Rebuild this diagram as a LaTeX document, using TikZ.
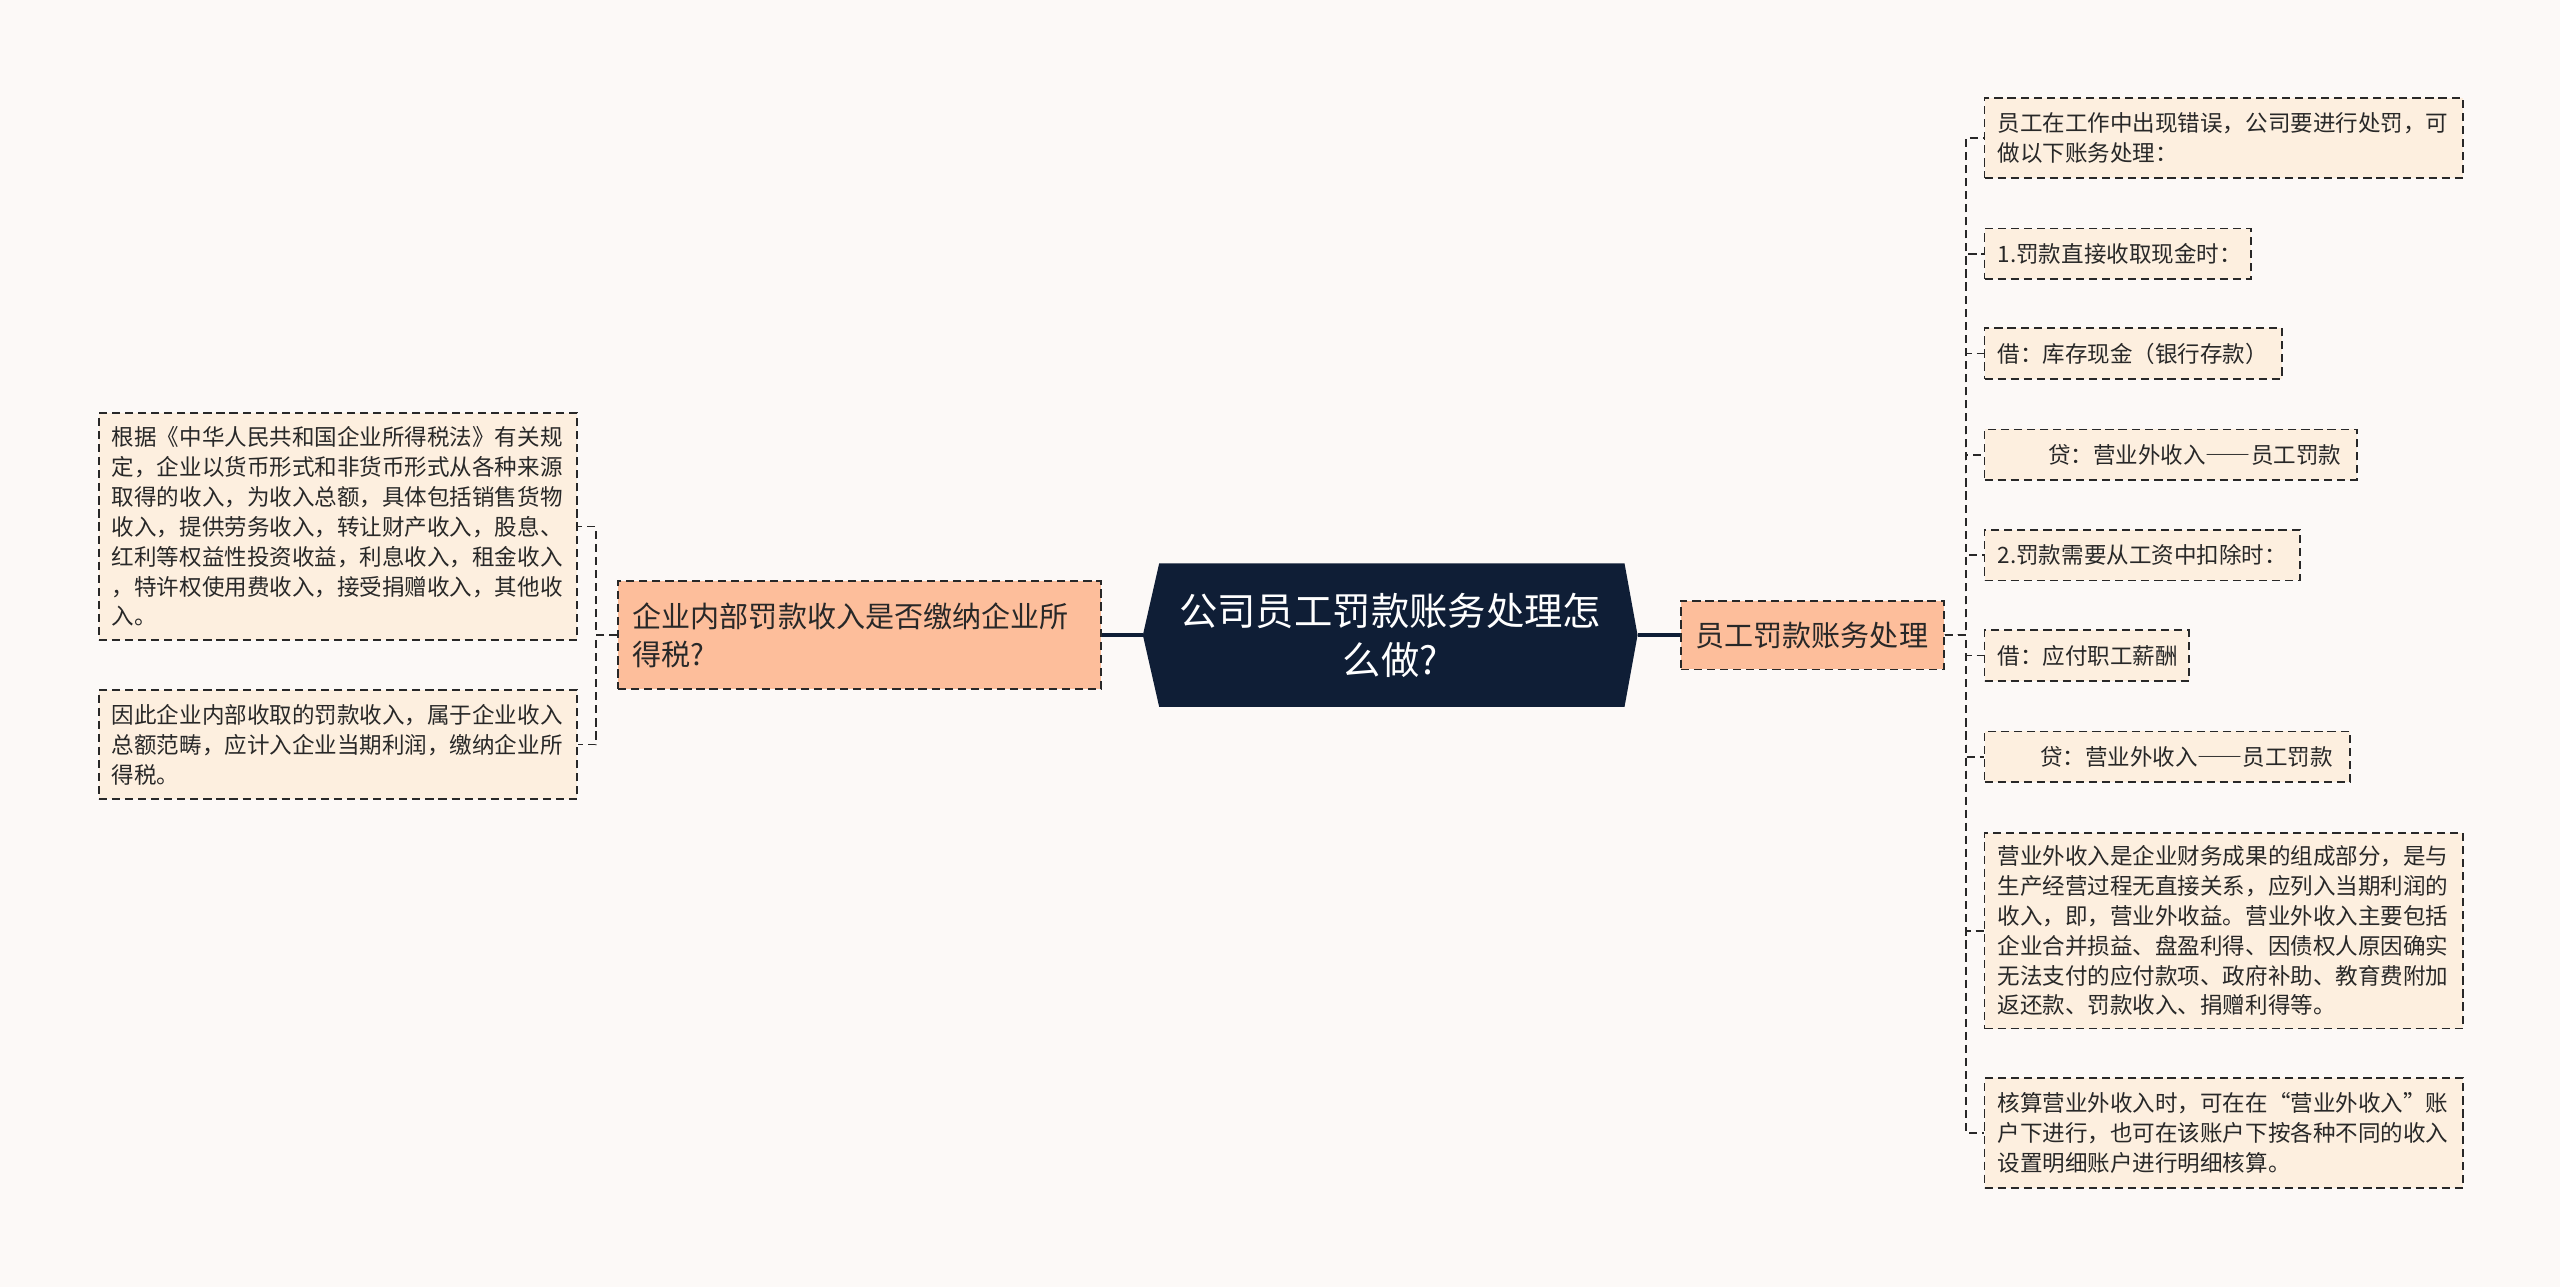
\documentclass[tikz,border=0pt]{standalone}
\usepackage{fontspec}
\setmainfont{Noto Sans CJK SC}
\usepackage{tikz}

\definecolor{bgcol}{RGB}{252,249,247}
\definecolor{navy}{RGB}{15,30,54}
\definecolor{salmon}{RGB}{253,190,155}
\definecolor{peach}{RGB}{253,239,223}
\definecolor{ink}{RGB}{40,40,40}

\newcommand{\cdash}{{\addfontfeature{RawFeature=+fwid}——}}

\begin{document}
\begin{tikzpicture}[x=1pt,y=1pt,
    leaf/.style={draw=ink,line width=1.1pt,dash pattern=on 5pt off 3pt,fill=peach,
      anchor=west,align=left,inner xsep=8pt,inner ysep=0pt,text=ink,
      font=\fontsize{13.8}{18.3}\selectfont},
    mainbox/.style={draw=ink,line width=1.1pt,dash pattern=on 5pt off 3pt,fill=salmon,
      anchor=west,align=left,inner xsep=9pt,inner ysep=0pt,text=ink,
      font=\fontsize{17.8}{23}\selectfont},
    root/.style={minimum width=303pt,minimum height=88pt,inner sep=0pt,
      align=center,text=white,font=\fontsize{23.5}{30}\selectfont,
      path picture={\fill[navy]
        ([xshift=10pt]path picture bounding box.north west)
        -- (path picture bounding box.west)
        -- ([xshift=10pt]path picture bounding box.south west)
        -- ([xshift=-8pt]path picture bounding box.south east)
        -- (path picture bounding box.east)
        -- ([xshift=-8pt]path picture bounding box.north east) -- cycle;}},
    conn/.style={draw=ink,line width=1.1pt,dash pattern=on 5pt off 3pt},
    rootconn/.style={draw=navy,line width=2pt}]

  \fill[bgcol] (0,0) rectangle (1568,-788);
  \useasboundingbox (0,0) rectangle (1568,-788);

  \node[root] (root) at (851.5,-389) {公司员工罚款账务处理怎\\么做?};

  \node[mainbox,text width=278pt,minimum height=66pt] (q) at (378,-389)
    {企业内部罚款收入是否缴纳企业所\\得税?};
  \node[mainbox,text width=143pt,minimum height=42pt] (a) at (1029,-389)
    {员工罚款账务处理};

  \node[leaf,text width=277pt,minimum height=139pt] (l1) at (60,-322.5)
    {根据《中华人民共和国企业所得税法》有关规\\定，企业以货币形式和非货币形式从各种来源\\取得的收入，为收入总额，具体包括销售货物\\收入，提供劳务收入，转让财产收入，股息、\\红利等权益性投资收益，利息收入，租金收入\\，特许权使用费收入，接受捐赠收入，其他收\\入。};
  \node[leaf,text width=277pt,minimum height=67pt] (l2) at (60,-456)
    {因此企业内部收取的罚款收入，属于企业收入\\总额范畴，应计入企业当期利润，缴纳企业所\\得税。};

  \node[leaf,text width=277pt,minimum height=49pt] (r1) at (1215,-84.5)
    {员工在工作中出现错误，公司要进行处罚，可\\做以下账务处理：};
  \node[leaf,text width=147pt,minimum height=31pt] (r2) at (1215,-155.5)
    {1.罚款直接收取现金时：};
  \node[leaf,text width=166pt,minimum height=31pt] (r3) at (1215,-216.5)
    {借：库存现金（银行存款）};
  \node[leaf,text width=212pt,minimum height=31pt] (r4) at (1215,-278.5)
    {\hspace*{31pt}贷：营业外收入\cdash 员工罚款};
  \node[leaf,text width=177pt,minimum height=31pt] (r5) at (1215,-340)
    {2.罚款需要从工资中扣除时：};
  \node[leaf,text width=109pt,minimum height=31pt] (r6) at (1215,-401.5)
    {借：应付职工薪酬};
  \node[leaf,text width=208pt,minimum height=31pt] (r7) at (1215,-463.5)
    {\hspace*{26pt}贷：营业外收入\cdash 员工罚款};
  \node[leaf,text width=277pt,minimum height=120pt] (r8) at (1215,-570)
    {营业外收入是企业财务成果的组成部分，是与\\生产经营过程无直接关系，应列入当期利润的\\收入，即，营业外收益。营业外收入主要包括\\企业合并损益、盘盈利得、因债权人原因确实\\无法支付的应付款项、政府补助、教育费附加\\返还款、罚款收入、捐赠利得等。};
  \node[leaf,text width=277pt,minimum height=67pt] (r9) at (1215,-694)
    {核算营业外收入时，可在在“营业外收入”账\\户下进行，也可在该账户下按各种不同的收入\\设置明细账户进行明细核算。};

  \draw[rootconn] (root.west) -- (q.east);
  \draw[rootconn] (root.east) -- (a.west);

  \foreach \n in {l1,l2}
    \draw[conn] (q.west) -- ++(-13,0) |- (\n.east);
  \foreach \n in {r1,r2,r3,r4,r5,r6,r7,r8,r9}
    \draw[conn] (a.east) -- ++(13,0) |- (\n.west);
\end{tikzpicture}
\end{document}
